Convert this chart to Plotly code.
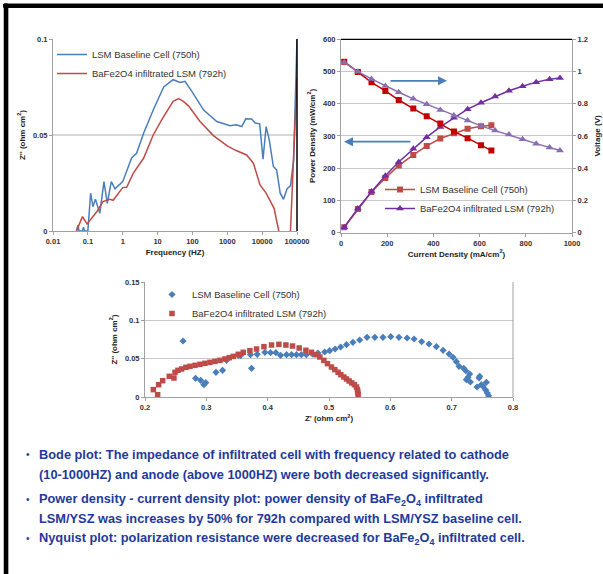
import plotly.graph_objects as go

# ---------------- Bode plot data ----------------
bode_base_f = [0.047, 0.052, 0.056, 0.07, 0.075, 0.08, 0.1, 0.12, 0.14, 0.165, 0.22, 0.29, 0.36, 0.47, 0.6, 1.0, 1.8, 2.5, 4,
               7.5, 15, 28, 44, 61, 96, 210, 500, 1200, 1800, 2600, 3400, 5000, 6300, 8500,
               10600, 13000, 16000, 21000, 26000, 33000, 41000, 52000, 65000, 80000, 100000]
bode_base_z = [0.0, 0.003, 0.0, 0.0, 0.002, 0.0, 0.0, 0.0197, 0.0127, 0.0165, 0.0092, 0.0257, 0.0144, 0.0257, 0.022, 0.0257,
               0.038, 0.0405, 0.051, 0.063, 0.075, 0.0788, 0.0774, 0.078, 0.0727, 0.063, 0.057,
               0.0548, 0.0553, 0.0544, 0.0584, 0.0583, 0.0562, 0.0558, 0.0374, 0.0544, 0.0475,
               0.0336, 0.0318, 0.0197, 0.0165, 0.022, 0.0235, 0.037, 0.1]
bode_inf_f = [0.047, 0.07, 0.095, 0.13, 0.18, 0.27, 0.43, 0.53, 0.74, 1.0, 1.3, 2, 4, 7.5, 14, 28, 40, 55, 77,
              165, 400, 1000, 1800, 3600, 5600, 8700, 13000, 22000, 30000, 45000, 65000, 100000]
bode_inf_z = [0.0, 0.0075, 0.0037, 0.0066, 0.010, 0.0153, 0.0165, 0.016, 0.0197, 0.0226, 0.0228, 0.030, 0.038,
              0.050, 0.0588, 0.0675, 0.069, 0.0675, 0.0652, 0.057, 0.0497, 0.0443, 0.0419, 0.0396,
              0.0353, 0.024, 0.0197, 0.0118, 0.0, -0.015, 0.0, 0.080]
bode_xticks = [0.01, 0.1, 1, 10, 100, 1000, 10000, 100000]
bode_xtick_text = ["0.01", "0.1", "1", "10", "100", "1000", "10000", "100000"]

# ---------------- Power / voltage data ----------------
pd_base_i = [14, 73, 132, 192, 250, 313, 371, 430, 489, 548, 606, 651]
pd_base_p = [16.5, 73, 126, 169, 208, 241, 269, 292, 308, 322, 330, 333]
pd_base_v = [1.061, 0.997, 0.933, 0.879, 0.823, 0.770, 0.722, 0.677, 0.627, 0.586, 0.542, 0.509]
pd_inf_i = [14, 73, 132, 192, 250, 313, 371, 430, 489, 548, 606, 667, 727, 786, 845, 903, 948]
pd_inf_p = [16.5, 74.5, 127, 176, 219, 260, 296, 328, 356, 383, 403, 422, 440, 454, 467, 476, 480]
pd_inf_v = [1.057, 0.999, 0.954, 0.910, 0.871, 0.830, 0.797, 0.761, 0.726, 0.695, 0.662, 0.633,
            0.608, 0.579, 0.552, 0.528, 0.509]

# ---------------- Nyquist data ----------------
nyq_base_x = [0.262, 0.2825, 0.2907, 0.296, 0.299, 0.3157, 0.3265, 0.333, 0.352, 0.356, 0.372, 0.3737,
              0.383, 0.3955, 0.4047, 0.4134, 0.421, 0.4308, 0.439, 0.447, 0.455, 0.463, 0.473,
              0.482, 0.493, 0.501, 0.510, 0.519, 0.5285, 0.539, 0.550, 0.562, 0.5747, 0.588,
              0.6007, 0.614, 0.6273, 0.6387, 0.651, 0.663, 0.675, 0.686, 0.6957, 0.7022, 0.7077,
              0.712, 0.7196, 0.723, 0.724, 0.7267, 0.7294, 0.7305, 0.7413, 0.7446, 0.7457, 0.7484,
              0.751, 0.7555, 0.758, 0.7603, 0.7566]
nyq_base_y = [0.073, 0.0243, 0.0217, 0.0161, 0.0187, 0.0322, 0.0348, 0.0478, 0.054, 0.054, 0.0552, 0.0374,
              0.0557, 0.0583, 0.0578, 0.0578, 0.0543, 0.0552, 0.0552, 0.0552, 0.0552, 0.0552, 0.0561,
              0.0574, 0.0587, 0.0604, 0.0626, 0.0652, 0.0683, 0.0713, 0.0743, 0.0778, 0.0778, 0.0778,
              0.0787, 0.0778, 0.0770, 0.0757, 0.0722, 0.0691, 0.0657, 0.0609, 0.0561, 0.0517, 0.0461,
              0.040, 0.0374, 0.0343, 0.0226, 0.0257, 0.030, 0.0196, 0.013, 0.0248, 0.027, 0.0161,
              0.0139, 0.0091, 0.0052, 0.0017, 0.0191]
nyq_inf_x = [0.2136, 0.2206, 0.2223, 0.2288, 0.2396, 0.2472, 0.2489, 0.2537, 0.2597, 0.2668, 0.2733,
             0.2815, 0.2896, 0.2977, 0.3059, 0.314, 0.3222, 0.3303, 0.3374, 0.3439, 0.352, 0.3602,
             0.371, 0.3819, 0.3939, 0.4063, 0.4183, 0.4297, 0.4405, 0.4514, 0.4623, 0.4715, 0.4785,
             0.4851, 0.4916, 0.4975, 0.504, 0.5095, 0.5149, 0.5193, 0.5242, 0.5285, 0.5328, 0.5372,
             0.5415, 0.5448, 0.5464, 0.547, 0.5475]
nyq_inf_y = [0.0096, 0.003, 0.016, 0.0213, 0.027, 0.0248, 0.0322, 0.0348, 0.0365, 0.0387, 0.040,
             0.0413, 0.0426, 0.0439, 0.0452, 0.0465, 0.0478, 0.0496, 0.0513, 0.053, 0.0557, 0.0583,
             0.0604, 0.0626, 0.0657, 0.0678, 0.0687, 0.0678, 0.0665, 0.0639, 0.0609, 0.0583, 0.0552,
             0.0522, 0.0478, 0.0435, 0.0391, 0.0357, 0.0322, 0.0291, 0.0261, 0.0235, 0.0209, 0.0183,
             0.0161, 0.013, 0.0096, 0.0061, 0.003]

names = ["LSM Baseline Cell (750h)", "BaFe2O4 infiltrated LSM (792h)"]

bullets = [
    ["Bode plot: The impedance of infiltrated cell with frequency related to cathode",
     "(10-1000HZ) and anode (above 1000HZ) were both decreased significantly."],
    ["Power density - current density plot: power density of BaFe<sub>2</sub>O<sub>4</sub> infiltrated",
     "LSM/YSZ was increases by 50% for 792h compared with LSM/YSZ baseline cell."],
    ["Nyquist plot: polarization resistance were decreased for BaFe<sub>2</sub>O<sub>4</sub> infiltrated cell."],
]

W, H = 603, 574
def px(x):
    return x / W
def py(y):
    return 1 - y / H

FONT = "Liberation Sans"
tickfont = dict(family=FONT, size=7.5, color="#333333", weight="bold")
titlefont = dict(family=FONT, size=8, color="#222222", weight="bold")
legfont = dict(family=FONT, size=9.5, color="#333333")
BLUE = "#4a7ebb"
RED = "#be4b48"
DRED = "#c00000"
PURP = "#7030a0"
LPURP = "#8a6fb0"

fig = go.Figure()

# Bode
fig.add_trace(go.Scatter(x=bode_base_f, y=bode_base_z, mode="lines", name=names[0],
                         line=dict(color=BLUE, width=1.5),
                         xaxis="x", yaxis="y", legend="legend"))
fig.add_trace(go.Scatter(x=bode_inf_f, y=bode_inf_z, mode="lines", name=names[1],
                         line=dict(color=RED, width=1.5),
                         xaxis="x", yaxis="y", legend="legend"))

# Power density
fig.add_trace(go.Scatter(x=pd_base_i, y=pd_base_p, mode="lines+markers", name=names[0],
                         line=dict(color=RED, width=1.5), marker=dict(symbol="square", size=6, color=RED),
                         xaxis="x2", yaxis="y2", legend="legend2"))
fig.add_trace(go.Scatter(x=pd_inf_i, y=pd_inf_p, mode="lines+markers", name=names[1],
                         line=dict(color=PURP, width=1.5), marker=dict(symbol="triangle-up", size=7, color=PURP),
                         xaxis="x2", yaxis="y2", legend="legend2"))
fig.add_trace(go.Scatter(x=pd_base_i, y=pd_base_v, mode="lines+markers", name=names[0], showlegend=False,
                         line=dict(color=DRED, width=1.5), marker=dict(symbol="square", size=6, color=DRED),
                         xaxis="x2", yaxis="y3"))
fig.add_trace(go.Scatter(x=pd_inf_i, y=pd_inf_v, mode="lines+markers", name=names[1], showlegend=False,
                         line=dict(color=LPURP, width=1.5), marker=dict(symbol="triangle-up", size=7, color=LPURP),
                         xaxis="x2", yaxis="y3"))

# Nyquist
fig.add_trace(go.Scatter(x=nyq_base_x, y=nyq_base_y, mode="markers", name=names[0],
                         marker=dict(symbol="diamond", size=5.5, color=BLUE),
                         xaxis="x3", yaxis="y4", legend="legend3"))
fig.add_trace(go.Scatter(x=nyq_inf_x, y=nyq_inf_y, mode="markers", name=names[1],
                         marker=dict(symbol="square", size=5.5, color=RED),
                         xaxis="x3", yaxis="y4", legend="legend3"))

axis_common = dict(showline=True, linecolor="#a0a0a0", linewidth=1, ticks="outside", ticklen=3,
                   tickcolor="#a0a0a0", tickfont=tickfont, zeroline=False, fixedrange=True,
                   automargin=False)

fig.update_layout(
    width=W, height=H, margin=dict(l=0, r=0, t=0, b=0, autoexpand=False),
    paper_bgcolor="white", plot_bgcolor="rgba(0,0,0,0)",
    showlegend=True,
    xaxis=dict(domain=[px(53), px(297)], type="log", range=[-2, 5], tickvals=bode_xticks,
               ticktext=bode_xtick_text, showgrid=False, anchor="y",
               title=dict(text="Frequency (HZ)", font=titlefont, standoff=4), **axis_common),
    yaxis=dict(domain=[py(231), py(39)], range=[0, 0.1], tickvals=[0, 0.05, 0.1],
               ticktext=["0", "0.05", "0.1"], showgrid=False, anchor="x",
               title=dict(text="Z'' (ohm cm<sup>2</sup>)", font=titlefont, standoff=6), **axis_common),
    xaxis2=dict(domain=[px(341), px(572)], range=[0, 1000], tickvals=[0, 200, 400, 600, 800, 1000],
                showgrid=False, anchor="y2",
                title=dict(text="Current Density (mA/cm<sup>2</sup>)", font=titlefont, standoff=4), **axis_common),
    yaxis2=dict(domain=[py(232.5), py(39.3)], range=[0, 600], tickvals=[0, 100, 200, 300, 400, 500, 600],
                showgrid=True, gridcolor="#c8c8c8", gridwidth=1, anchor="x2",
                title=dict(text="Power Density (mW/cm<sup>2</sup>)", font=titlefont, standoff=6), **axis_common),
    yaxis3=dict(range=[0, 1.2], tickvals=[0, 0.2, 0.4, 0.6, 0.8, 1.0, 1.2],
                ticktext=["0", "0.2", "0.4", "0.6", "0.8", "1", "1.2"],
                overlaying="y2", side="right", anchor="x2", showgrid=False,
                title=dict(text="Voltage (V)", font=titlefont, standoff=6), **axis_common),
    xaxis3=dict(domain=[px(145), px(513)], range=[0.2, 0.8], tickvals=[0.2, 0.3, 0.4, 0.5, 0.6, 0.7, 0.8],
                ticktext=["0.2", "0.3", "0.4", "0.5", "0.6", "0.7", "0.8"], showgrid=False, anchor="y4",
                title=dict(text="Z' (ohm cm<sup>2</sup>)", font=titlefont, standoff=4), **axis_common),
    yaxis4=dict(domain=[py(397), py(282)], range=[0, 0.15], tickvals=[0, 0.05, 0.1, 0.15],
                ticktext=["0", "0.05", "0.1", "0.15"], showgrid=True, gridcolor="#c8c8c8", anchor="x3",
                title=dict(text="Z'' (ohm cm<sup>2</sup>)", font=titlefont, standoff=6), **axis_common),
    legend=dict(x=px(52), y=py(40), xanchor="left", yanchor="top", bgcolor="rgba(0,0,0,0)",
                font=legfont, itemwidth=30),
    legend2=dict(x=px(380), y=py(175), xanchor="left", yanchor="top", bgcolor="rgba(0,0,0,0)",
                 font=legfont, itemwidth=30),
    legend3=dict(x=px(152), y=py(280), xanchor="left", yanchor="top", bgcolor="rgba(0,0,0,0)",
                 font=legfont, itemwidth=30),
)

shapes = []
# frame of slide (black bars along top and left edge)
shapes.append(dict(type="rect", xref="paper", yref="paper", x0=0.006, x1=1.0, y0=0.987, y1=0.993,
                   fillcolor="#000000", line=dict(color="#000000", width=1), layer="above"))
shapes.append(dict(type="rect", xref="paper", yref="paper", x0=0.007, x1=0.013, y0=0.0, y1=0.993,
                   fillcolor="#000000", line=dict(color="#000000", width=1), layer="above"))
# Bode gridline at 0.05 and right border
shapes.append(dict(type="line", xref="x domain", yref="y", x0=0, x1=1, y0=0.05, y1=0.05,
                   line=dict(color="#b0b0b0", width=1), layer="below"))
shapes.append(dict(type="line", xref="x domain", yref="y domain", x0=1, x1=1, y0=0, y1=1,
                   line=dict(color="black", width=1.5)))
# Power plot top border
shapes.append(dict(type="line", xref="x2 domain", yref="y2 domain", x0=0, x1=1, y0=1, y1=1,
                   line=dict(color="black", width=1.2)))
# Nyquist right border
shapes.append(dict(type="line", xref="x3 domain", yref="y4 domain", x0=1, x1=1, y0=0, y1=1,
                   line=dict(color="#a0a0a0", width=1)))
fig.update_layout(shapes=shapes)

annotations = []
# arrows in power plot
annotations.append(dict(x=459, y=471, ax=208, ay=471, xref="x2", yref="y2", axref="x2", ayref="y2",
                        showarrow=True, arrowhead=2, arrowsize=1, arrowwidth=1.8, arrowcolor=BLUE, text=""))
annotations.append(dict(x=13, y=282, ax=307, ay=282, xref="x2", yref="y2", axref="x2", ayref="y2",
                        showarrow=True, arrowhead=2, arrowsize=1, arrowwidth=1.8, arrowcolor=BLUE, text=""))

TXT = "#1f3a9a"
bfont = dict(family=FONT, size=12.8, color=TXT, weight="bold")
line_y = [[454, 474], [499, 518], [538]]
for lines, ys in zip(bullets, line_y):
    annotations.append(dict(x=px(28), y=py(ys[0]), xref="paper", yref="paper", text="•", showarrow=False,
                            xanchor="center", yanchor="middle", font=dict(family=FONT, size=10, color=TXT)))
    for t, yy in zip(lines, ys):
        annotations.append(dict(x=px(37), y=py(yy), xref="paper", yref="paper", text=t, showarrow=False,
                                xanchor="left", yanchor="middle", align="left", font=bfont))
fig.update_layout(annotations=annotations)

post = (
    "document.body.style.margin='0';document.body.style.overflow='hidden';"
    "function bar(l,t,w,h){var d=document.createElement('div');d.style.position='absolute';"
    "d.style.left=l+'px';d.style.top=t+'px';d.style.width=w+'px';d.style.height=h+'px';"
    "d.style.background='#000';d.style.zIndex='1000';d.style.pointerEvents='none';document.body.appendChild(d);}"
    "bar(4,4,599,3);bar(4,4,4,570);"
)
fig.write_html("out.html", config={"displayModeBar": False}, post_script=post)
